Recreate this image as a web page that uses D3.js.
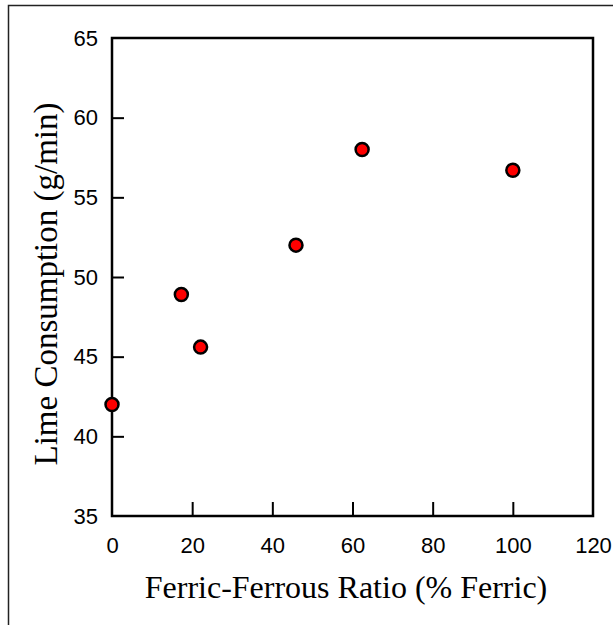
<!DOCTYPE html>
<html>
<head>
<meta charset="utf-8">
<script src="https://cdn.jsdelivr.net/npm/d3@7"></script>
<style>
    body { margin: 0; background: #fff; }
    svg { display: block; }
</style>
</head>
<body>
<svg id="chart"></svg>
<script>
    // Data
    var ferricPct = [0, 17.3, 22.1, 45.9, 62.4, 100];
    var limeUse = [42.0, 48.9, 45.6, 52.0, 58.0, 56.7];
    var xTicks = [0, 20, 40, 60, 80, 100, 120];
    var yTicks = [35, 40, 45, 50, 55, 60, 65];

    var width = 613,
        height = 625,
        margin = { left: 112, right: 20, top: 38, bottom: 109 };

    var svg = d3.select("#chart")
        .attr("width", width)
        .attr("height", height);

    // outer frame (only top and left edges show)
    svg.append("path")
        .attr("d", "M8.5,625 V5.5 H613")
        .attr("fill", "none")
        .attr("stroke", "#222")
        .attr("stroke-width", 1.5);

    var x = d3.scaleLinear()
        .domain([0, 120])
        .range([margin.left, width - margin.right]);

    var y = d3.scaleLinear()
        .domain([35, 65])
        .range([height - margin.bottom, margin.top]);

    // x axis, ticks pointing inward
    var xAxis = svg.append("g")
        .attr("transform", "translate(0," + y(35) + ")")
        .call(d3.axisBottom(x).tickValues(xTicks).tickSizeInner(-14).tickSizeOuter(0).tickPadding(21));

    var yAxis = svg.append("g")
        .attr("transform", "translate(" + x(0) + ",0)")
        .call(d3.axisLeft(y).tickValues(yTicks).tickSizeInner(-12).tickSizeOuter(0).tickPadding(14));

    [xAxis, yAxis].forEach(function (a) {
        a.select(".domain").remove();
        a.selectAll(".tick line").attr("stroke", "#000").attr("stroke-width", 2);
        a.selectAll(".tick text")
            .attr("fill", "#000")
            .style("font-family", "Arial, 'Liberation Sans', sans-serif")
            .style("font-size", "22px");
    });
    // hide ticks at the box edges
    xAxis.selectAll(".tick line").filter(function (d) { return d == 0 || d == 120; }).remove();
    yAxis.selectAll(".tick line").filter(function (d) { return d == 35 || d == 65; }).remove();

    // plot box
    svg.append("rect")
        .attr("x", x(0))
        .attr("y", y(65))
        .attr("width", x(120) - x(0))
        .attr("height", y(35) - y(65))
        .attr("fill", "none")
        .attr("stroke", "#000")
        .attr("stroke-width", 2.5);

    // points
    svg.selectAll(".pt")
        .data(ferricPct)
        .enter().append("circle")
        .attr("class", "pt")
        .attr("cx", function (d) { return x(d); })
        .attr("cy", function (d, i) { return y(limeUse[i]); })
        .attr("r", 6.5)
        .attr("fill", "#ff0000")
        .attr("stroke", "#000")
        .attr("stroke-width", 2.5);

    // axis titles
    svg.append("text")
        .attr("x", 346)
        .attr("y", 598)
        .style("text-anchor", "middle")
        .style("font-family", "'Liberation Serif', 'Times New Roman', serif")
        .style("font-size", "32px")
        .text("Ferric-Ferrous Ratio (% Ferric)");

    svg.append("text")
        .attr("transform", "translate(57,284) rotate(-90)")
        .style("text-anchor", "middle")
        .style("font-family", "'Liberation Serif', 'Times New Roman', serif")
        .style("font-size", "33px")
        .text("Lime Consumption (g/min)");
</script>
</body>
</html>
